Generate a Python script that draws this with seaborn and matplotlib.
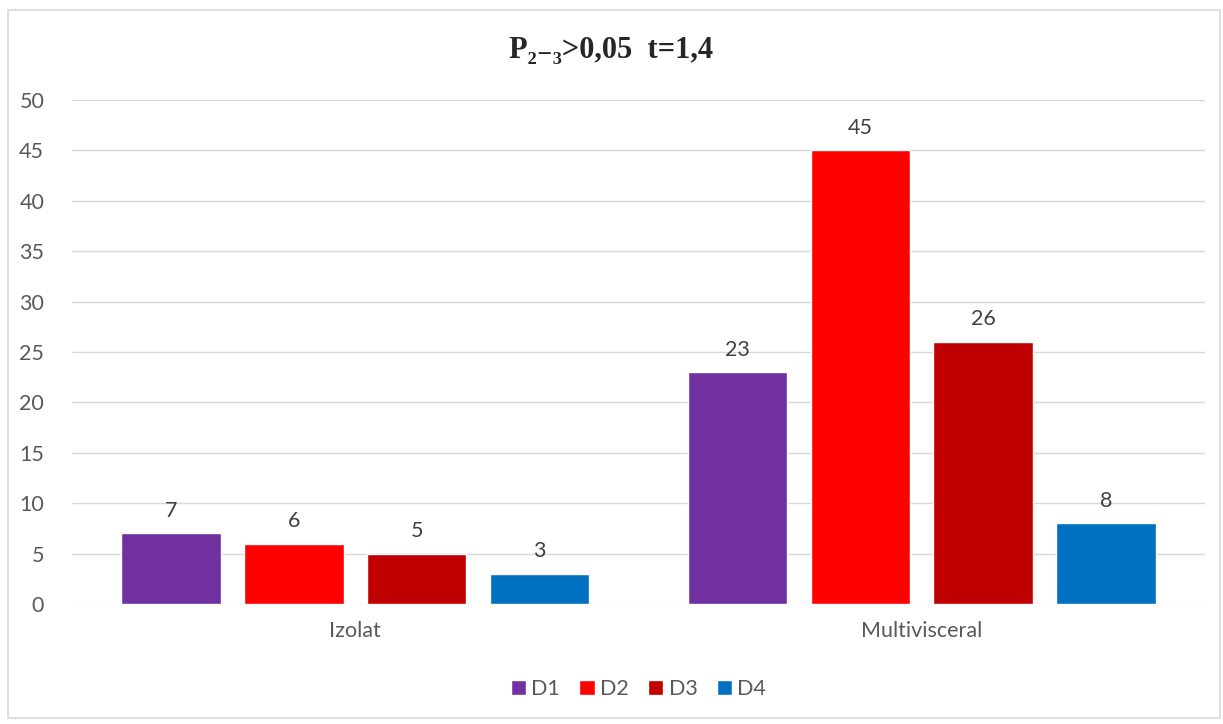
import pandas as pd
import matplotlib.pyplot as plt
import seaborn as sns
from matplotlib.patches import Rectangle

# Chart data
categories = ['Izolat', 'Multivisceral']
series = ['D1', 'D2', 'D3', 'D4']
d1 = [7, 23]
d2 = [6, 45]
d3 = [5, 26]
d4 = [3, 8]
colors = ['#7030A0', '#FF0000', '#C00000', '#0070C0']

data = pd.DataFrame({
    'category': categories * 4,
    'series': [s for s in series for _ in categories],
    'value': d1 + d2 + d3 + d4,
})

sns.set_style('white')
plt.rcParams['font.family'] = ['Lato', 'DejaVu Sans']

fig = plt.figure(figsize=(12.23, 7.24), dpi=100)
ax = fig.add_axes([72 / 1223, 1 - 604 / 724, (1205 - 72) / 1223, 504 / 724])

sns.barplot(data=data, x='category', y='value', hue='series', palette=colors,
            saturation=1, width=0.867, gap=0.19, ax=ax, legend=True, zorder=3)

for cont in ax.containers:
    ax.bar_label(cont, padding=9, fontsize=15.5, color='#404040')

ax.set_ylim(0, 50)
ax.set_yticks(range(0, 51, 5))
ax.set_xlim(-0.5, 1.5)
ax.grid(axis='y', color='#D9D9D9', linewidth=1, zorder=0)
ax.set_axisbelow(True)
for s in ax.spines.values():
    s.set_visible(False)
ax.tick_params(axis='both', length=0, labelsize=15.5, labelcolor='#595959')
ax.tick_params(axis='y', pad=20)
ax.tick_params(axis='x', pad=12)
ax.set_xlabel('')
ax.set_ylabel('')

ax.legend(loc='center', bbox_to_anchor=(0.5, 1 - (689 - 100) / 504), ncol=4,
          frameon=False, fontsize=15.5, handlelength=0.7, handleheight=0.7,
          handletextpad=0.25, columnspacing=0.9, labelcolor='#595959')

fig.text(0.5, 1 - 50 / 724, 'P₂₋₃>0,05  t=1,4', ha='center', va='center',
         fontsize=22, fontweight='bold', family=['Liberation Serif', 'DejaVu Serif'])

# outer chart border
fig.patches.append(Rectangle((8 / 1223, 1 - 718 / 724), (1220 - 8) / 1223, (718 - 10) / 724,
                             transform=fig.transFigure, fill=False,
                             edgecolor='#D9D9D9', linewidth=1.2))

fig.savefig('out.png', dpi=100)
